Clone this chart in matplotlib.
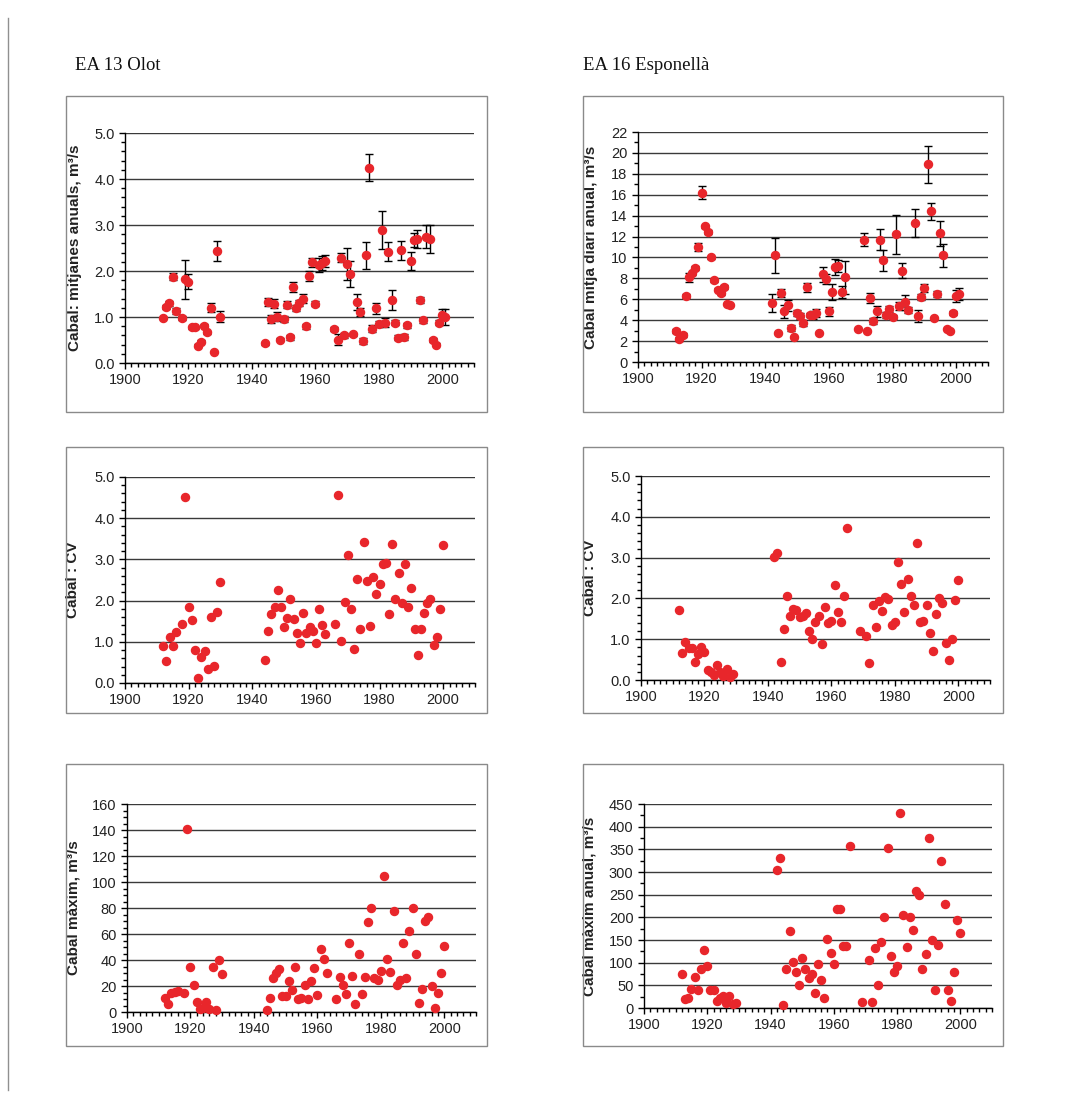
import matplotlib
matplotlib.use('Agg')
import numpy as np
import matplotlib.pyplot as plt
from matplotlib.ticker import MultipleLocator, FormatStrFormatter
from matplotlib.patches import Rectangle
from matplotlib.lines import Line2D

# ---------------- DATA ----------------
# EA 13 Olot - mean annual flow (m3/s) with error
olot_mean_years = [1912,1913,1914,1915,1916,1918,1919,1920,1921,1922,1923,1924,1925,1926,1927,1928,1929,1930,
                   1944,1945,1946,1947,1948,1949,1950,1951,1952,1953,1954,1955,1956,1957,1958,1959,1960,1961,1962,1963,
                   1966,1967,1968,1969,1970,1971,1972,1973,1974,1975,1976,1977,1978,1979,1980,1981,1982,1983,1984,1985,
                   1986,1987,1988,1989,1990,1991,1992,1993,1994,1995,1996,1997,1998,1999,2000,2001]
olot_mean = [0.98,1.22,1.30,1.88,1.13,0.98,1.82,1.77,0.78,0.78,0.38,0.46,0.81,0.67,1.20,0.25,2.43,1.01,
             0.43,1.33,0.96,1.29,1.01,0.51,0.96,1.27,0.56,1.66,1.20,1.30,1.40,0.80,1.90,2.19,1.29,2.13,2.17,2.21,
             0.74,0.51,2.29,0.60,2.16,1.93,0.62,1.33,1.11,0.48,2.34,4.25,0.75,1.19,0.85,2.89,0.88,2.42,1.37,0.88,
             0.55,2.45,0.57,0.82,2.22,2.68,2.70,1.37,0.93,2.75,2.70,0.50,0.40,0.88,1.05,1.00]
olot_mean_err = [0.03,0.05,0.05,0.07,0.07,0.05,0.43,0.17,0.03,0.03,0.03,0.03,0.03,0.03,0.10,0.02,0.22,0.11,
                 0.03,0.08,0.08,0.10,0.10,0.03,0.07,0.08,0.05,0.11,0.06,0.06,0.10,0.05,0.11,0.10,0.06,0.15,0.15,0.13,
                 0.05,0.12,0.10,0.05,0.35,0.28,0.03,0.17,0.08,0.07,0.30,0.30,0.08,0.12,0.07,0.42,0.10,0.20,0.22,0.05,
                 0.06,0.20,0.07,0.06,0.20,0.15,0.20,0.06,0.05,0.25,0.30,0.05,0.03,0.05,0.12,0.18]

# EA 16 Esponella - mean daily annual flow (m3/s) with error
esp_mean_years = [1912,1913,1914,1915,1916,1917,1918,1919,1920,1921,1922,1923,1924,1925,1926,1927,1928,1929,
                  1942,1943,1944,1945,1946,1947,1948,1949,1950,1951,1952,1953,1954,1955,1956,1957,1958,1959,1960,1961,1962,1963,1964,1965,
                  1969,1971,1972,1973,1974,1975,1976,1977,1978,1979,1980,1981,1982,1983,1984,1985,
                  1987,1988,1989,1990,1991,1992,1993,1994,1995,1996,1997,1998,1999,2000,2001]
esp_mean = [3.0,2.2,2.6,6.35,8.1,8.5,9.0,11.0,16.2,13.0,12.4,10.0,7.8,6.9,6.6,7.17,5.55,5.42,
            5.65,10.2,2.8,6.6,4.85,5.42,3.25,2.36,4.7,4.4,3.7,7.14,4.53,4.5,4.7,2.8,8.4,7.94,4.85,6.7,9.1,9.2,6.7,8.1,
            3.15,11.7,3.0,6.1,3.95,4.85,11.7,9.75,4.5,5.1,4.3,12.2,5.35,8.75,5.7,5.0,
            13.3,4.4,6.2,7.1,18.9,14.4,4.2,6.5,12.3,10.2,3.2,3.0,4.7,6.3,6.5]
esp_mean_err = [0.2,0.15,0.2,0.2,0.4,0.15,0.2,0.4,0.6,0.15,0.2,0.1,0.15,0.15,0.15,0.15,0.1,0.1,
                0.85,1.65,0.1,0.4,0.6,0.5,0.25,0.1,0.3,0.3,0.3,0.4,0.2,0.4,0.4,0.1,0.7,0.5,0.45,0.8,0.8,0.6,0.6,1.6,
                0.1,0.6,0.1,0.5,0.3,0.5,1.0,1.0,0.3,0.3,0.2,1.85,0.4,0.7,0.7,0.3,
                1.3,0.6,0.3,0.4,1.8,0.8,0.1,0.3,1.2,1.1,0.1,0.1,0.2,0.6,0.6]

# EA 13 Olot - CV
olot_cv_years = [1912,1913,1914,1915,1916,1918,1919,1920,1921,1922,1923,1924,1925,1926,1927,1928,1929,1930,
                 1944,1945,1946,1947,1948,1949,1950,1951,1952,1953,1954,1955,1956,1957,1958,1959,1960,1961,1962,1963,
                 1966,1967,1968,1969,1970,1971,1972,1973,1974,1975,1976,1977,1978,1979,1980,1981,1982,1983,1984,1985,1986,
                 1987,1988,1989,1990,1991,1992,1993,1994,1995,1996,1997,1998,1999,2000]
olot_cv = [0.89,0.53,1.11,0.89,1.23,1.44,4.51,1.85,1.52,0.80,0.13,0.62,0.77,0.33,1.61,0.42,1.73,2.44,
           0.56,1.27,1.67,1.85,2.26,1.85,1.35,1.58,2.05,1.56,1.21,0.98,1.70,1.21,1.35,1.27,0.98,1.80,1.41,1.18,
           1.44,4.57,1.03,1.96,3.11,1.80,0.82,2.52,1.32,3.43,2.48,1.38,2.57,2.17,2.40,2.90,2.92,1.68,3.37,2.03,2.66,
           1.95,2.90,1.85,2.30,1.30,0.68,1.30,1.70,1.95,2.05,0.93,1.12,1.80,3.35]

# EA 16 Esponella - CV
esp_cv_years = [1912,1913,1914,1915,1916,1917,1918,1919,1920,1921,1922,1923,1924,1925,1926,1927,1928,1929,
                1942,1943,1944,1945,1946,1947,1948,1949,1950,1951,1952,1953,1954,1955,1956,1957,1958,1959,1960,1961,1962,1963,1964,1965,
                1969,1971,1972,1973,1974,1975,1976,1977,1978,1979,1980,1981,1982,1983,1984,1985,1986,1987,1988,
                1989,1990,1991,1992,1993,1994,1995,1996,1997,1998,1999,2000]
esp_cv = [1.71,0.65,0.92,0.78,0.78,0.45,0.63,0.80,0.69,0.25,0.20,0.12,0.36,0.20,0.10,0.27,0.07,0.15,
          3.02,3.12,0.45,1.24,2.06,1.56,1.74,1.71,1.54,1.58,1.65,1.21,1.00,1.41,1.56,0.88,1.79,1.39,1.45,2.34,1.67,1.41,2.06,3.73,
          1.21,1.09,0.42,1.85,1.30,1.94,1.70,2.03,1.99,1.35,1.41,2.88,2.35,1.67,2.48,2.06,1.85,3.37,1.43,
          1.45,1.85,1.15,0.70,1.62,2.00,1.88,0.90,0.48,1.00,1.95,2.45]

# EA 13 Olot - maximum flow (m3/s)
olot_max_years = [1912,1913,1914,1915,1916,1918,1919,1920,1921,1922,1923,1924,1925,1926,1927,1928,1929,1930,
                  1944,1945,1946,1947,1948,1949,1950,1951,1952,1953,1954,1955,1956,1957,1958,1959,1960,1961,1962,1963,
                  1966,1967,1968,1969,1970,1971,1972,1973,1974,1975,1976,1977,1978,1979,1980,1981,1982,1983,1984,1985,
                  1986,1987,1988,1989,1990,1991,1992,1993,1994,1995,1996,1997,1998,1999,2000]
olot_max = [11,6,15,15.5,16.5,15,141,34.5,20.5,7.5,2,3,7.5,2.5,34.5,1.5,40,29,
            1.5,11,26,30,33,12,12,24,17,34.5,10,11,20.5,10,24,33.5,13,48.5,41,30,
            10,27,20.5,14,53,28,6.5,44.5,14,27,69,80,26,25,31.5,105,41,31,78,21,
            25,53,26,62,80,45,7,18,70,73,20,3,15,30,51]

# EA 16 Esponella - annual maximum flow (m3/s)
esp_max_years = esp_cv_years
esp_max = [75,20,22,43,69,40,85,127,93,40,40,15,22,27,12,27,9,11,
           304,330,6,85,169,101,79,51,111,85,66,75,32,98,61,21,153,121,98,219,219,137,137,357,
           13,106,13,132,51,145,201,354,114,79,93,430,206,135,201,173,259,250,85,
           120,375,150,40,140,325,230,40,15,80,195,165]

# ---------------- FIGURE ----------------
W, H = 1076, 1096
plt.rcParams['font.family'] = ['Liberation Sans', 'DejaVu Sans']
fig = plt.figure(figsize=(W / 100, H / 100), dpi=100)

RED = '#e8262b'
GRID = '#3a3a3a'


def box(l, t, r, b, color='#8a8a8a'):
    fig.add_artist(Rectangle((l / W, 1 - b / H), (r - l) / W, (b - t) / H,
                             transform=fig.transFigure, fill=False,
                             ec=color, lw=1.0))


def panel(rect, years, vals, ymax, major, minor, fmt, ylabel, label_px, err=None):
    l, t, r, b = rect
    ax = fig.add_axes([l / W, 1 - b / H, (r - l) / W, (b - t) / H])
    ax.set_xlim(1900, 2010)
    ax.set_ylim(0, ymax)
    ax.xaxis.set_major_locator(MultipleLocator(20))
    ax.xaxis.set_minor_locator(MultipleLocator(2))
    ax.yaxis.set_major_locator(MultipleLocator(major))
    ax.yaxis.set_minor_locator(MultipleLocator(minor))
    ax.yaxis.set_major_formatter(FormatStrFormatter(fmt))
    ax.yaxis.grid(True, which='major', color=GRID, lw=1.0)
    ax.set_axisbelow(True)
    for s in ('top', 'right'):
        ax.spines[s].set_visible(False)
    for s in ('left', 'bottom'):
        ax.spines[s].set_color('black')
        ax.spines[s].set_linewidth(1.0)
    ax.tick_params(which='major', direction='out', length=4, width=1,
                   labelsize=10.5, colors='black', labelcolor='#222222')
    ax.tick_params(which='minor', direction='out', length=3, width=1, colors='black')
    if err is not None:
        ax.errorbar(years, vals, yerr=err, fmt='none', ecolor='black',
                    elinewidth=1.0, capsize=3, capthick=1.0, zorder=2, clip_on=False)
    ax.plot(years, vals, 'o', color=RED, mec=RED, ms=5.8, zorder=3, clip_on=False)
    ax.set_ylabel(ylabel, fontsize=11, fontweight='bold', color='#222222')
    ax.yaxis.set_label_coords((label_px - l) / (r - l), 0.5)
    return ax


# outer frame (left edge line)
fig.add_artist(Line2D([8 / W, 8 / W], [1 - 18 / H, 1 - 1090 / H],
                      transform=fig.transFigure, color='#909090', lw=1.0))

# panel boxes
box(66, 96, 487, 412)
box(583, 96, 1003, 412)
box(66, 447, 487, 713)
box(583, 447, 1003, 713)
box(66, 764, 487, 1046)
box(583, 764, 1003, 1046)

fig.text(75 / W, 1 - 65 / H, 'EA 13 Olot', family='Liberation Serif', fontsize=13.5,
         va='center', ha='left', color='#111111')
fig.text(583 / W, 1 - 65 / H, 'EA 16 Esponellà', family='Liberation Serif', fontsize=13.5,
         va='center', ha='left', color='#111111')

panel((125, 133, 474, 363), olot_mean_years, olot_mean, 5.0, 1.0, 0.2, '%.1f',
      'Cabal: mitjanes anuals, m³/s', 82, err=olot_mean_err)
panel((638, 132, 988, 362), esp_mean_years, esp_mean, 22, 2, 1, '%d',
      'Cabal mitja diari anual, m³/s', 598, err=esp_mean_err)
panel((125, 477, 475, 683), olot_cv_years, olot_cv, 5.0, 1.0, 0.2, '%.1f',
      'Cabal : CV', 80)
panel((641, 476, 990, 680), esp_cv_years, esp_cv, 5.0, 1.0, 0.2, '%.1f',
      'Cabal : CV', 597)
panel((127, 804, 476, 1012), olot_max_years, olot_max, 160, 20, 5, '%d',
      'Cabal màxim, m³/s', 80)
panel((644, 804, 992, 1008), esp_max_years, esp_max, 450, 50, 25, '%d',
      'Cabal màxim anual, m³/s', 597)

fig.savefig('out.png', dpi=100)
